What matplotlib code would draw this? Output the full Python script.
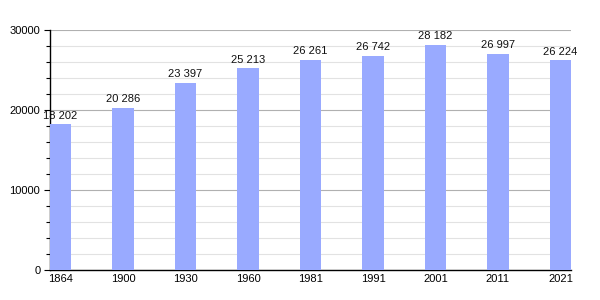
import numpy as np
import matplotlib.pyplot as plt
from matplotlib.ticker import MultipleLocator

# Dados da população
anos = ["1864", "1900", "1930", "1960", "1981", "1991", "2001", "2011", "2021"]
populacao = [18202, 20286, 23397, 25213, 26261, 26742, 28182, 26997, 26224]
yticks = [0, 10000, 20000, 30000]

plt.rcParams["font.family"] = ["Liberation Sans", "DejaVu Sans"]


def formatar(valor):
    # separador de milhares com espaço
    return f"{valor:,}".replace(",", " ")


def main():
    fig = plt.figure(figsize=(6, 3), dpi=100)
    ax = fig.add_axes([50 / 600, 0.1, 521 / 600, 0.8])

    x = np.arange(len(anos))
    largura = 0.34
    barras = ax.bar(x, populacao, width=largura, color="#99aaff", zorder=3)

    for b, v in zip(barras, populacao):
        ax.text(b.get_x() + b.get_width() / 2, v + 450, formatar(v),
                ha="center", va="bottom", fontsize=8, color="#111111", zorder=4)

    ax.set_xlim(-largura / 2, len(anos) - 1 + largura / 2)
    ax.set_ylim(0, 30000)
    ax.set_xticks(x)
    ax.set_xticklabels(anos, fontsize=8)
    ax.set_yticks(yticks)
    ax.set_yticklabels([str(t) for t in yticks], fontsize=8)
    ax.yaxis.set_minor_locator(MultipleLocator(2000))

    ax.grid(axis="y", which="major", color="#b0b0b0", linewidth=0.8, zorder=1)
    ax.grid(axis="y", which="minor", color="#e2e2e2", linewidth=0.8, zorder=1)

    for lado in ["top", "right"]:
        ax.spines[lado].set_visible(False)
    ax.spines["left"].set_linewidth(1.0)
    ax.spines["bottom"].set_linewidth(1.0)

    ax.tick_params(axis="x", length=0, pad=3)
    ax.tick_params(axis="y", which="major", length=4, width=0.8, pad=3)
    ax.tick_params(axis="y", which="minor", length=3, width=0.8)

    fig.savefig("out.png", dpi=100)


if __name__ == "__main__":
    main()
